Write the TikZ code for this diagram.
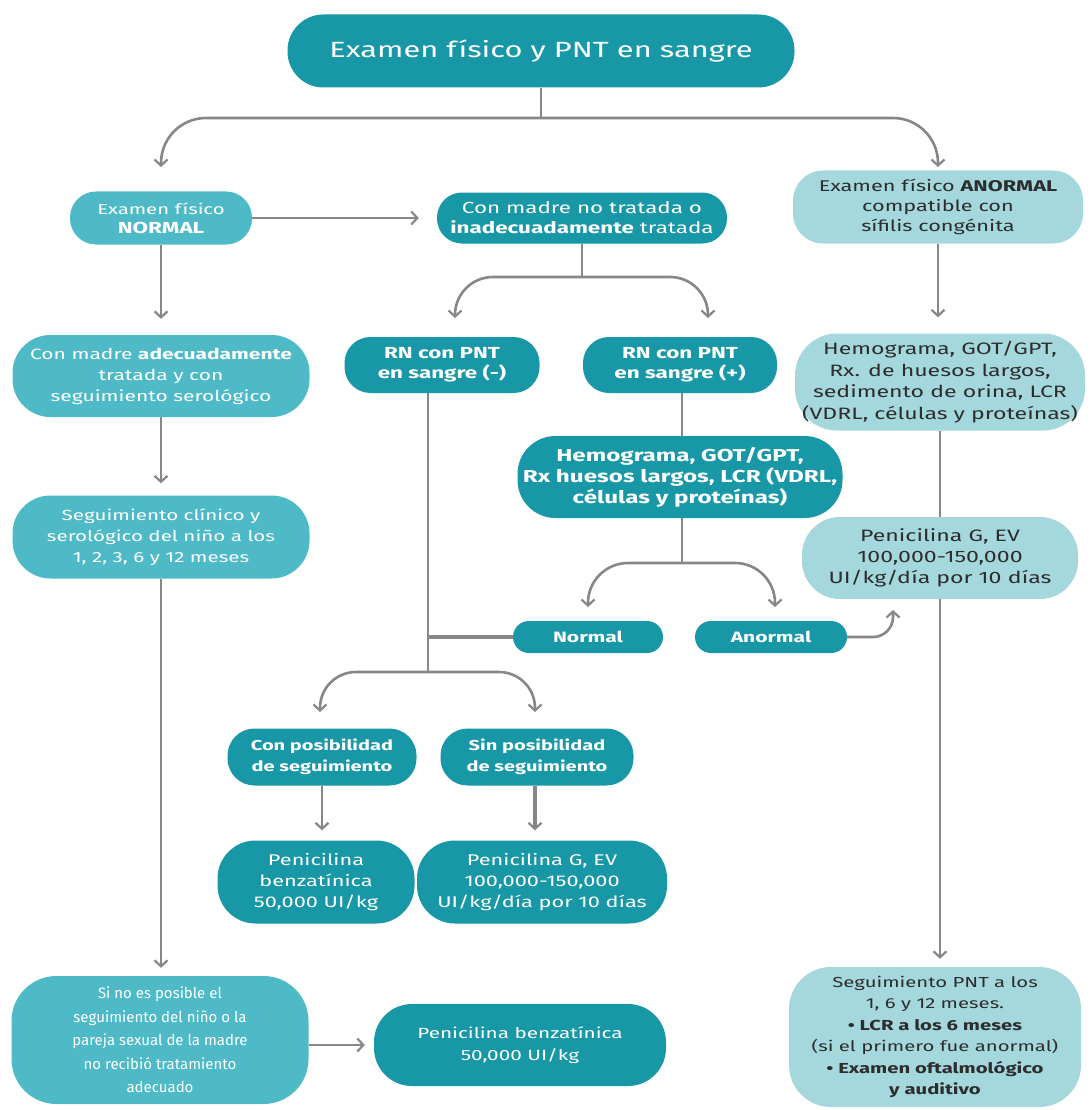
\documentclass[tikz,border=0pt]{standalone}
\usepackage{fontspec}
\setmainfont{Fira Sans}[FakeStretch=1.4]
\newfontfamily\plainf{Fira Sans}
\usetikzlibrary{arrows.meta,calc}
\definecolor{dteal}{RGB}{24,152,166}
\definecolor{lteal}{RGB}{78,186,200}
\definecolor{pteal}{RGB}{164,216,221}
\definecolor{cgray}{RGB}{135,135,135}
\definecolor{dtext}{RGB}{45,45,45}
\newcommand{\fs}[2]{\fontsize{#1}{#2}\selectfont}
\tikzset{
  box/.style={draw=none, align=center, inner sep=0pt},
  dbox/.style={box, fill=dteal, text=white},
  lbox/.style={box, fill=lteal, text=white},
  pbox/.style={box, fill=pteal, text=dtext},
  wh/.style 2 args={minimum width=#1pt, minimum height=#2pt},
  rc/.style={rounded corners=#1pt},
  conn/.style={draw=cgray, line width=2.6pt},
  arr/.style={conn, -{Straight Barb[length=6pt,width=13pt,line width=2.2pt]}},
}
\begin{document}
\begin{tikzpicture}[x=1pt,y=-1pt]
\useasboundingbox (0,0) rectangle (1089,1110);
\fill[white] (0,0) rectangle (1089,1110);

% nodes
\node[dbox, wh={507}{73}, rc=36, font=\fs{22}{26}] (top) at (541,51) {Examen físico y PNT en sangre};
\node[lbox, wh={182}{53}, rc=26, font=\fs{14.5}{19}] (nrm) at (161,218) {Examen físico\\\textbf{\fs{16}{19}NORMAL}};
\node[dbox, wh={290}{51}, rc=25, font=\fs{16}{20}] (mnt) at (582,218) {Con madre no tratada o\\\textbf{inadecuadamente} tratada};
\node[pbox, wh={290}{73}, rc=30, font=\fs{15.5}{20}] (anr) at (938,207) {Examen físico \textbf{ANORMAL}\\compatible con\\sífilis congénita};
\node[lbox, wh={297}{82}, rc=38, font=\fs{15}{21}] (mad) at (161,376) {Con madre \textbf{adecuadamente}\\tratada y con\\seguimiento serológico};
\node[dbox, wh={195}{56}, rc=26, font=\bfseries\fs{16}{20}] (rnn) at (442,365) {RN con PNT\\en sangre (-)};
\node[dbox, wh={194}{56}, rc=26, font=\bfseries\fs{16}{20}] (rnp) at (680,365) {RN con PNT\\en sangre (+)};
\node[dbox, wh={325}{82}, rc=38, font=\bfseries\fs{17.3}{21}] (hem) at (680,477) {Hemograma, GOT/GPT,\\Rx huesos largos, LCR (VDRL,\\células y proteínas)};
\node[pbox, wh={290}{97}, rc=42, font=\fs{16.5}{21.5}] (hmr) at (940,382) {Hemograma, GOT/GPT,\\Rx. de huesos largos,\\sedimento de orina, LCR\\(VDRL, células y proteínas)};
\node[lbox, wh={297}{83}, rc=38, font=\fs{14.7}{21}] (seg) at (161,537) {Seguimiento clínico y\\serológico del niño a los\\1, 2, 3, 6 y 12 meses};
\node[pbox, wh={276}{82}, rc=38, font=\fs{16.5}{21}] (pgr) at (940,558) {Penicilina G, EV\\100,000-150,000\\UI/kg/día por 10 días};
\node[dbox, wh={150}{32}, rc=16, font=\bfseries\fs{15}{18}] (nor) at (588,637) {Normal};
\node[dbox, wh={152}{32}, rc=16, font=\bfseries\fs{15}{18}] (ano) at (771,637) {Anormal};
\node[dbox, wh={189}{57}, rc=27, font=\bfseries\fs{14.3}{21}] (con) at (322,757) {Con posibilidad\\de seguimiento};
\node[dbox, wh={193}{57}, rc=27, font=\bfseries\fs{14.3}{21}] (sin) at (537,757) {Sin posibilidad\\de seguimiento};
\node[dbox, wh={197}{83}, rc=38, font=\fs{15.5}{21}] (pb1) at (316,882) {Penicilina\\benzatínica\\50,000 UI/kg};
\node[dbox, wh={250}{83}, rc=38, font=\fs{15.5}{21}] (pg1) at (542,882) {Penicilina G, EV\\100,000-150,000\\UI/kg/día por 10 días};
\node[lbox, wh={297}{128}, rc=45, font=\plainf\fs{15}{23.5}] (sno) at (160,1040) {Si no es posible el\\seguimiento del niño o la\\pareja sexual de la madre\\no recibió tratamiento\\adecuado};
\node[dbox, wh={292}{82}, rc=38, font=\fs{14.8}{22}] (pb2) at (520,1045) {Penicilina benzatínica\\50,000 UI/kg};
\node[pbox, wh={292}{140}, rc=42, font=\fs{14.5}{21.5}] (spn) at (935,1037) {Seguimiento PNT a los\\1, 6 y 12 meses.\\\textbf{• LCR a los 6 meses}\\(si el primero fue anormal)\\\textbf{• Examen oftalmológico}\\\textbf{y auditivo}};

% free ends
\coordinate (t1) at (161,167);
\coordinate (t2) at (938,167);
\coordinate (tj) at (541,118);
\coordinate (mj) at (582,277);
\coordinate (m1) at (455,318);
\coordinate (m2) at (708,318);
\coordinate (hj) at (682,563);
\coordinate (h1) at (588,607);
\coordinate (h2) at (775,607);
\coordinate (vj) at (428,672);
\coordinate (vn) at (428,637);
\coordinate (v1) at (320,712);
\coordinate (v2) at (535,712);
\coordinate (at) at (893,610);

% connectors
\draw[conn] (top.south -| tj) -- (tj);
\draw[arr, rounded corners=45pt] (tj) -| (t1);
\draw[arr, rounded corners=45pt] (tj) -| (t2);
\draw[arr, shorten >=18pt] (nrm.east) -- (mnt.west);
\draw[arr, shorten >=16pt] (nrm.south) -- (mad.north);
\draw[arr, shorten >=12pt] (mad.south) -- (seg.north);
\draw[arr, shorten >=8pt] (seg.south) -- (seg.south |- sno.north);
\draw[arr, shorten >=9pt] (sno.east |- pb2.west) -- (pb2.west);

\draw[conn] (mnt.south) -- (mj);
\draw[arr, rounded corners=38pt] (mj) -| (m1);
\draw[arr, rounded corners=38pt] (mj) -| (m2);

\draw[conn] (rnp.south -| hj) -- (hem.north -| hj);
\draw[conn] (hem.south -| hj) -- (hj);
\draw[arr, rounded corners=40pt] (hj) -| (h1);
\draw[arr, rounded corners=40pt] (hj) -| (h2);

\draw[conn] (rnn.south -| vj) -- (vj);
\draw[conn, line width=4pt] (nor.west) -- (vn);
\draw[arr, rounded corners=36pt] (vj) -| (v1);
\draw[arr, rounded corners=36pt] (vj) -| (v2);
\draw[arr, rounded corners=20pt] (ano.east) -| (at);

\draw[arr, shorten >=10pt] (con.south) -- (con.south |- pb1.north);
\draw[arr, line width=3.6pt, shorten >=10pt] (sin.south -| v2) -- (v2 |- pg1.north);

\draw[arr, shorten >=16pt] (anr.south) -- (anr.south |- hmr.north);
\draw[conn] (hmr.south) -- (hmr.south |- pgr.north);
\draw[arr, shorten >=8pt] (pgr.south) -- (pgr.south |- spn.north);
\end{tikzpicture}
\end{document}
